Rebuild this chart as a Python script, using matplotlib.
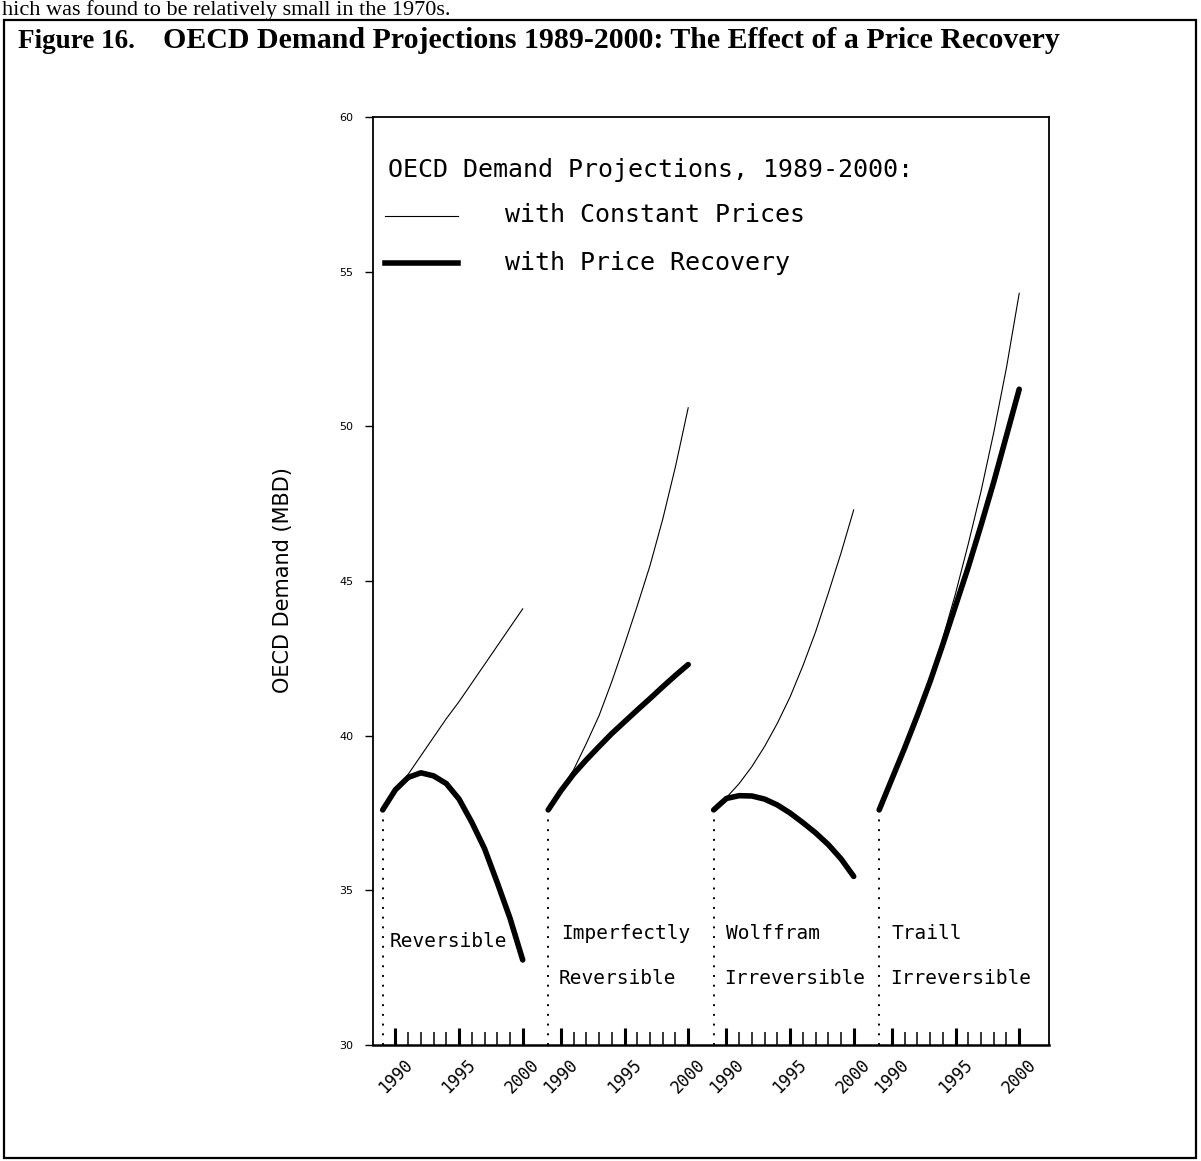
import matplotlib
matplotlib.use("Agg")
import matplotlib.pyplot as plt
from matplotlib.patches import Rectangle
from matplotlib.lines import Line2D
import numpy as np

W, H = 1201, 1161

years = list(range(1989, 2001))
panel_names = [["Reversible"], ["Imperfectly", "Reversible"],
               ["Wolffram", "Irreversible"], ["Traill", "Irreversible"]]

# constant prices (thin) and price recovery (thick), MBD
const_rev = [37.6, 38.25, 38.75, 39.35, 39.95, 40.55, 41.1, 41.7, 42.3, 42.9, 43.5, 44.1]
recov_rev = [37.6, 38.25, 38.65, 38.8, 38.7, 38.45, 37.95, 37.2, 36.35, 35.25, 34.1, 32.75]
const_imp = [37.6, 38.25, 38.9, 39.75, 40.65, 41.75, 42.95, 44.2, 45.5, 47.0, 48.7, 50.6]
recov_imp = [37.6, 38.22, 38.76, 39.22, 39.65, 40.07, 40.45, 40.83, 41.2, 41.58, 41.95, 42.3]
const_wol = [37.6, 38.0, 38.45, 39.0, 39.65, 40.4, 41.25, 42.25, 43.35, 44.6, 45.9, 47.3]
recov_wol = [37.6, 37.97, 38.06, 38.05, 37.95, 37.76, 37.5, 37.19, 36.86, 36.48, 36.02, 35.45]
const_tra = [37.6, 38.6, 39.6, 40.65, 41.8, 43.15, 44.6, 46.2, 47.9, 49.8, 51.9, 54.3]
recov_tra = [37.6, 38.6, 39.6, 40.65, 41.75, 42.95, 44.2, 45.45, 46.8, 48.2, 49.7, 51.2]

const_all = [const_rev, const_imp, const_wol, const_tra]
recov_all = [recov_rev, recov_imp, recov_wol, recov_tra]

label_years = [1990, 1995, 2000]
PANEL_W = 13   # years per panel slot on the shared axis

mono = "DejaVu Sans Mono"


def fx(x):
    return x / W


def fy(y):
    return 1 - y / H


fig = plt.figure(figsize=(W / 100, H / 100), dpi=100)

# page bits around the figure
fig.text(fx(2), fy(15), "hich was found to be relatively small in the 1970s.",
         family="Liberation Serif", fontsize=16, va="baseline", ha="left")
fig.add_artist(Rectangle((fx(4), fy(1158)), fx(1196) - fx(4), fy(20) - fy(1158),
                         transform=fig.transFigure, fill=False, lw=1.6, ec="black"))
fig.text(fx(18), fy(48), "Figure 16.", family="Liberation Serif", fontsize=19.5,
         fontweight="bold", va="baseline")
fig.text(fx(163), fy(48), "OECD Demand Projections 1989-2000: The Effect of a Price Recovery",
         family="Liberation Serif", fontsize=21.5, fontweight="bold", va="baseline")

ax = fig.add_axes([fx(373), fy(1045), fx(1049) - fx(373), fy(117) - fy(1045)])

for i in range(4):
    t = [i * PANEL_W + (y - 1989) for y in years]
    ax.plot(t, const_all[i], color="black", lw=0.8, solid_joinstyle="round")
    ax.plot(t, recov_all[i], color="black", lw=4.0, solid_joinstyle="round",
            solid_capstyle="round")
    ax.plot([t[0], t[0]], [30, recov_all[i][0]], color="black", lw=1.4,
            linestyle=(0, (1, 4)))

# panel captions
ax.text(0.57, 33.34, panel_names[0][0], family=mono, fontsize=14, va="center")
for i in range(1, 4):
    ax.text(i * PANEL_W + 1.0, 33.6, panel_names[i][0], family=mono, fontsize=14, va="center")
    ax.text(i * PANEL_W + 0.85, 32.15, panel_names[i][1], family=mono, fontsize=14, va="center")

ax.set_xlim(-0.76, 52.34)
ax.set_ylim(30, 60)

major = [i * PANEL_W + (y - 1989) for i in range(4) for y in label_years]
minor = [i * PANEL_W + (y - 1989) for i in range(4) for y in range(1990, 2001)
         if y not in label_years]
ax.set_xticks(major)
ax.set_xticklabels([str(y) for i in range(4) for y in label_years],
                   rotation=45, ha="center", family=mono, fontsize=12)
ax.set_xticks(minor, minor=True)
ax.tick_params(axis="x", which="major", direction="in", length=12.5, width=2.2, pad=8)
ax.tick_params(axis="x", which="minor", direction="in", length=9.5, width=1.1)
ax.set_yticks(range(30, 61, 5))
ax.tick_params(axis="y", direction="out", length=6, width=1, labelsize=8, pad=8)
for s in ax.spines.values():
    s.set_linewidth(1.3)
ax.spines["bottom"].set_linewidth(1.8)

fig.text(fx(283), fy(580), "OECD Demand (MBD)", rotation=90, fontsize=15,
         ha="center", va="center", family="DejaVu Sans")

# in-plot key
def axx(x):
    return (x - 373) / 676


def axy(y):
    return (1045 - y) / 928


ax.text(axx(388), axy(170), "OECD Demand Projections, 1989-2000:", transform=ax.transAxes,
        family=mono, fontsize=18, va="center")
ax.add_line(Line2D([axx(385), axx(458)], [axy(216), axy(216)], transform=ax.transAxes,
                   color="black", lw=0.8))
ax.text(axx(505), axy(215), "with Constant Prices", transform=ax.transAxes,
        family=mono, fontsize=18, va="center")
ax.add_line(Line2D([axx(385), axx(458)], [axy(263), axy(263)], transform=ax.transAxes,
                   color="black", lw=4.0))
ax.text(axx(505), axy(263), "with Price Recovery", transform=ax.transAxes,
        family=mono, fontsize=18, va="center")

fig.savefig("out.png", dpi=100)
